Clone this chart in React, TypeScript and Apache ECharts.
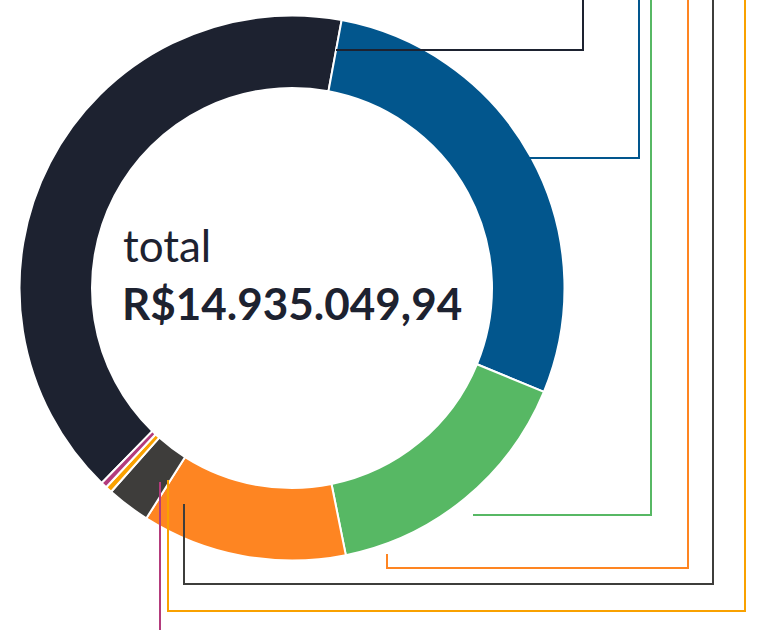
import React, { useEffect, useRef } from "react";
import * as echarts from "echarts";

// ---- data ----
const categories = [
  "Categoria 1",
  "Categoria 2",
  "Categoria 3",
  "Categoria 4",
  "Categoria 5",
  "Categoria 6",
  "Categoria 7",
];
const values = [6065123.0, 4228113.0, 2331361.0, 1813115.0, 385324.0, 58247.0, 53766.94];
const totalCaption = "total";

// ---- styles ----
const colors = ["#1d2230", "#02568d", "#57b864", "#fe8522", "#3e3d3b", "#f9a100", "#b33b7c"];
const darkText = "#1d2230";

// leader lines (annotation layout, one per slice, in page pixels)
const leaderPaths: number[][][] = [
  [[336, 50], [583, 50], [583, -5]],
  [[528, 158], [639, 158], [639, -5]],
  [[473, 515], [651, 515], [651, -5]],
  [[387, 554], [387, 568], [688, 568], [688, -5]],
  [[184, 504], [184, 584], [713, 584], [713, -5]],
  [[168, 480], [168, 611], [745, 611], [745, -5]],
  [[160, 482], [160, 640]],
];

function formatBRL(v: number): string {
  const fixed = v.toFixed(2);
  const [intPart, dec] = fixed.split(".");
  const withDots = intPart.replace(/\B(?=(\d{3})+(?!\d))/g, ".");
  return "R$" + withDots + "," + dec;
}

export default function App() {
  const ref = useRef<HTMLDivElement>(null);
  useEffect(() => {
    if (!ref.current) return;
    const chart = echarts.init(ref.current, undefined, { renderer: "svg" });
    const total = values.reduce((a, b) => a + b, 0);
    const graphics: any[] = leaderPaths.map((pts, i) => ({
      type: "polyline",
      z: 100,
      silent: true,
      shape: { points: pts },
      style: { stroke: colors[i], lineWidth: 2, fill: null },
    }));
    graphics.push({
      type: "text",
      z: 100,
      x: 123,
      y: 245,
      style: {
        text: totalCaption,
        font: "400 44px Lato",
        fill: darkText,
        align: "left",
        verticalAlign: "middle",
      },
    });
    graphics.push({
      type: "text",
      z: 100,
      x: 122,
      y: 303,
      style: {
        text: formatBRL(total),
        font: "700 44px Lato",
        fill: darkText,
        align: "left",
        verticalAlign: "middle",
      },
    });
    chart.setOption({
      animation: false,
      backgroundColor: "#ffffff",
      color: colors,
      graphic: graphics,
      series: [
        {
          type: "pie",
          center: [292, 288],
          radius: [200, 272.5],
          startAngle: 225.7,
          clockwise: true,
          silent: true,
          label: { show: false },
          labelLine: { show: false },
          itemStyle: { borderColor: "#ffffff", borderWidth: 2 },
          emphasis: { disabled: true },
          data: categories.map((name, i) => ({ name, value: values[i] })),
        },
      ],
    });
    return () => chart.dispose();
  }, []);
  return (
    <div
      ref={ref}
      style={{ position: "fixed", left: 0, top: 0, width: 762, height: 630 }}
    />
  );
}
